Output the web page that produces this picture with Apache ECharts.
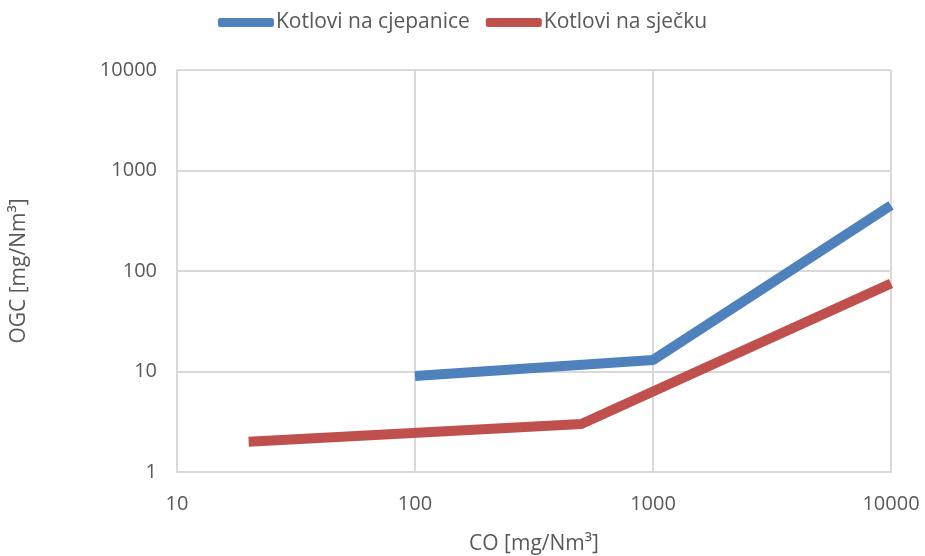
<!DOCTYPE html>
<html><head><meta charset="utf-8">
<script src="https://cdn.jsdelivr.net/npm/echarts@6/dist/echarts.min.js"></script>
<style>html,body{margin:0;padding:0;background:#fff}#c{width:925px;height:556px}</style>
</head><body><div id="c"></div>
<script>
const seriesNames = ['Kotlovi na cjepanice', 'Kotlovi na sječku'];
const cjepaniceCO = [100, 1000, 10000];
const cjepaniceOGC = [9, 13, 450];
const sjeckaCO = [20, 500, 10000];
const sjeckaOGC = [2, 3, 75];
const xTitle = 'CO [mg/Nm³]';
const yTitle = 'OGC [mg/Nm³]';

const font = '"Open Sans", "Noto Sans", sans-serif';
const chart = echarts.init(document.getElementById('c'));
chart.setOption({
  animation: false,
  textStyle: { fontFamily: font },
  grid: { left: 177, right: 34, top: 70, bottom: 84, containLabel: false, outerBoundsMode: 'none' },
  legend: {
    top: 7, left: 'center',
    itemWidth: 56, itemHeight: 9, itemGap: 16,
    textStyle: { fontSize: 21, color: '#595959', fontFamily: font, padding: [0, 0, 0, -3] },
    data: seriesNames.map(n => ({ name: n, icon: 'roundRect' }))
  },
  xAxis: {
    type: 'log', logBase: 10, min: 10, max: 10000,
    name: xTitle, nameLocation: 'middle', nameGap: 62,
    nameTextStyle: { fontSize: 21, color: '#595959' },
    axisLine: { show: true, lineStyle: { color: '#D9D9D9', width: 2 } },
    axisTick: { show: false },
    axisLabel: { fontSize: 20, color: '#595959', margin: 22, formatter: v => String(Math.round(v)) },
    splitLine: { show: true, lineStyle: { color: '#D9D9D9', width: 2 } }
  },
  yAxis: {
    type: 'log', logBase: 10, min: 1, max: 10000,
    name: yTitle, nameLocation: 'middle', nameGap: 147, nameRotate: 90,
    nameTextStyle: { fontSize: 21, color: '#595959' },
    axisLine: { show: true, lineStyle: { color: '#D9D9D9', width: 2 } },
    axisTick: { show: false },
    axisLabel: { fontSize: 20, color: '#595959', margin: 20, formatter: v => String(Math.round(v)) },
    splitLine: { show: true, lineStyle: { color: '#D9D9D9', width: 2 } }
  },
  series: [
    {
      name: seriesNames[0], type: 'line', showSymbol: false, symbol: 'none',
      data: cjepaniceCO.map((x, i) => [x, cjepaniceOGC[i]]),
      lineStyle: { color: '#4F81BD', width: 10, join: 'round' },
      itemStyle: { color: '#4F81BD' }
    },
    {
      name: seriesNames[1], type: 'line', showSymbol: false, symbol: 'none',
      data: sjeckaCO.map((x, i) => [x, sjeckaOGC[i]]),
      lineStyle: { color: '#C0504D', width: 10, join: 'round' },
      itemStyle: { color: '#C0504D' }
    }
  ]
});
</script></body></html>
